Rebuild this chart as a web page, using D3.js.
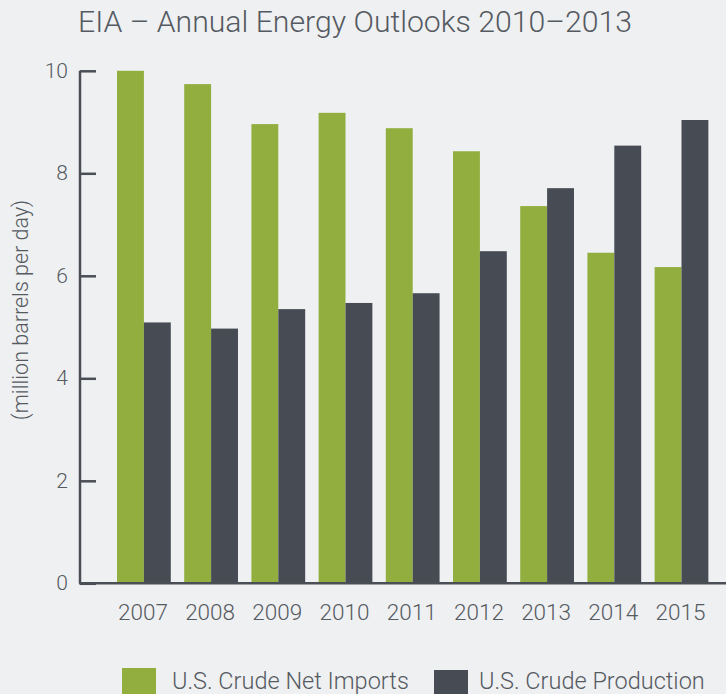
<!DOCTYPE html>
<html>
<head>
<meta charset="utf-8">
<script src="https://cdn.jsdelivr.net/npm/d3@7"></script>
<style>
  html, body { margin: 0; padding: 0; background: #eff0f2; }
  svg { display: block; }
  text { font-family: Roboto, "Liberation Sans", sans-serif; font-weight: 300; fill: #555a61; }
</style>
</head>
<body>
<div id="chart"></div>
<script>
// data
var years = ["2007", "2008", "2009", "2010", "2011", "2012", "2013", "2014", "2015"];
var netImports = [10.0, 9.74, 8.96, 9.18, 8.88, 8.43, 7.36, 6.45, 6.17];
var production = [5.09, 4.97, 5.35, 5.47, 5.66, 6.48, 7.71, 8.54, 9.04];
var seriesNames = ["U.S. Crude Net Imports", "U.S. Crude Production"];
var colors = ["#91ae3e", "#474c54"];
var yTicks = [0, 2, 4, 6, 8, 10];

var width = 726, height = 694;

var svg = d3.select("#chart").append("svg")
    .attr("width", width)
    .attr("height", height);

// scales
var x = d3.scaleBand()
    .domain(years)
    .range([110.3, 715.1])
    .paddingInner(0.2)
    .paddingOuter(0.1);

var x1 = d3.scaleBand()
    .domain([0, 1])
    .range([0, x.bandwidth()]);

var y = d3.scaleLinear()
    .domain([0, 10])
    .range([583.3, 70.8]);

// title
svg.append("text")
    .attr("x", 78)
    .attr("y", 32)
    .style("font-size", "30.2px")
    .text("EIA \u2013 Annual Energy Outlooks 2010\u20132013");

// bars
var rows = years.map(function (yr, i) {
    return { year: yr, vals: [netImports[i], production[i]] };
});

var groups = svg.selectAll("g.year")
    .data(rows)
    .enter().append("g")
    .attr("class", "year")
    .attr("transform", function (d) { return "translate(" + x(d.year) + ",0)"; });

groups.selectAll("rect")
    .data(function (d) { return d.vals; })
    .enter().append("rect")
    .attr("x", function (d, i) { return x1(i); })
    .attr("width", x1.bandwidth())
    .attr("y", function (d) { return y(d); })
    .attr("height", function (d) { return y(0) - y(d); })
    .attr("fill", function (d, i) { return colors[i]; });

// y axis (ticks point inward)
var yAxis = svg.append("g")
    .attr("transform", "translate(80,0)")
    .call(d3.axisRight(y).tickValues(yTicks).tickSize(16).tickFormat(""));
yAxis.select(".domain").attr("stroke", "#4a4e55").attr("stroke-width", 2.5)
    .attr("d", "M0," + y(10) + "V" + y(0));
yAxis.selectAll(".tick line").attr("stroke", "#4a4e55").attr("stroke-width", 2.5);

svg.selectAll("text.ylab")
    .data(yTicks)
    .enter().append("text")
    .attr("class", "ylab")
    .attr("x", 68)
    .attr("y", function (d) { return y(d) + 7; })
    .attr("text-anchor", "end")
    .style("font-size", "21px")
    .text(function (d) { return d; });

// x axis line
svg.append("line")
    .attr("x1", 79)
    .attr("x2", width)
    .attr("y1", y(0))
    .attr("y2", y(0))
    .attr("stroke", "#4a4e55")
    .attr("stroke-width", 2.5);

svg.selectAll("text.xlab")
    .data(years)
    .enter().append("text")
    .attr("class", "xlab")
    .attr("x", function (d) { return x(d) + x.bandwidth() / 2 - 1; })
    .attr("y", 620)
    .attr("text-anchor", "middle")
    .style("font-size", "22.5px")
    .text(function (d) { return d; });

// y axis title
svg.append("text")
    .attr("transform", "translate(28,310) rotate(-90)")
    .attr("text-anchor", "middle")
    .style("font-size", "21.5px")
    .text("(million barrels per day)");

// legend
var legendX = [122, 434];
var legendTextX = [172, 479];
var legend = svg.selectAll("g.legend")
    .data(seriesNames)
    .enter().append("g")
    .attr("class", "legend");

legend.append("rect")
    .attr("x", function (d, i) { return legendX[i]; })
    .attr("y", function (d, i) { return i === 0 ? 668 : 670; })
    .attr("width", 34)
    .attr("height", 26)
    .attr("fill", function (d, i) { return colors[i]; });

legend.append("text")
    .attr("x", function (d, i) { return legendTextX[i]; })
    .attr("y", 689)
    .style("font-size", "23.5px")
    .text(function (d) { return d; });
</script>
</body>
</html>
